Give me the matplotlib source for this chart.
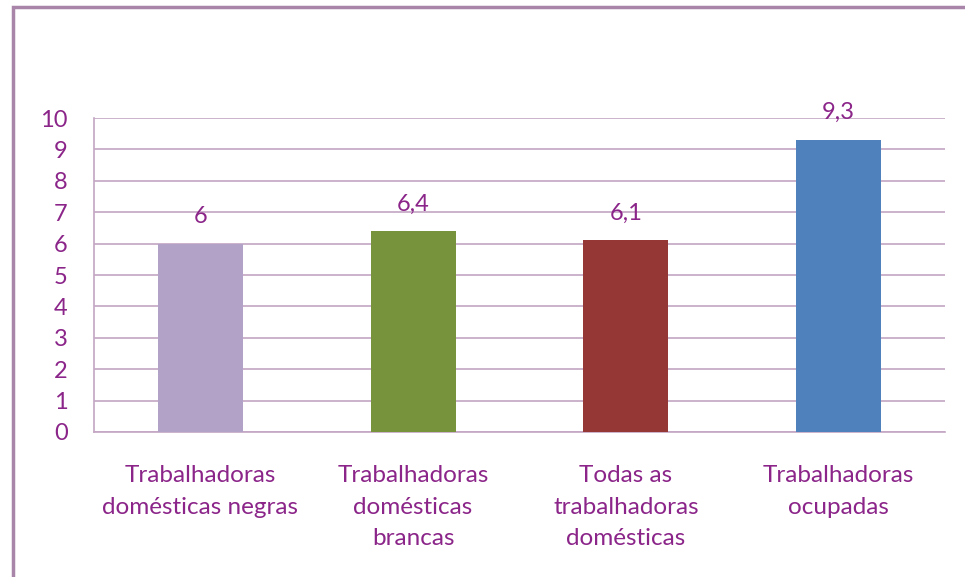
import matplotlib
matplotlib.use("Agg")
import matplotlib.pyplot as plt
from matplotlib.patches import Rectangle

categories = ["Trabalhadoras\ndomésticas negras",
              "Trabalhadoras\ndomésticas\nbrancas",
              "Todas as\ntrabalhadoras\ndomésticas",
              "Trabalhadoras\nocupadas"]
values = [6.0, 6.4, 6.1, 9.3]
value_labels = ["6", "6,4", "6,1", "9,3"]
bar_colors = ["#B2A2C7", "#77933C", "#953735", "#4F81BD"]
yticks = list(range(0, 11))

text_color = "#8B2589"
grid_color = "#C4A6C4"
border_color = "#A985A9"

plt.rcParams['font.family'] = ['Lato', 'DejaVu Sans']

W, H = 965, 577
fig = plt.figure(figsize=(W/100, H/100), dpi=100)
ax = fig.add_axes([94/W, 1-432/H, (945-94)/W, (432-118)/H])

x = list(range(len(categories)))
ax.bar(x, values, width=0.4, color=bar_colors, zorder=3)
for xi, v, lab in zip(x, values, value_labels):
    ax.annotate(lab, (xi, v), xytext=(0, 12), textcoords='offset points',
                ha='center', va='bottom', color=text_color, fontsize=17)

ax.set_xlim(-0.5, 3.5)
ax.set_ylim(0, 10)
ax.set_yticks(yticks)
ax.set_yticklabels([str(t) for t in yticks])
ax.yaxis.grid(True, color=grid_color, linewidth=1.2, zorder=0)
ax.set_axisbelow(True)
ax.tick_params(axis='y', length=0, pad=19, labelsize=17, labelcolor=text_color)
ax.set_xticks(x)
ax.set_xticklabels(categories, fontsize=17.5, color=text_color, linespacing=1.62)
ax.tick_params(axis='x', length=0, pad=24)
for s in ['top', 'right']:
    ax.spines[s].set_visible(False)
for s in ['left', 'bottom']:
    ax.spines[s].set_color(grid_color)
    ax.spines[s].set_linewidth(1.2)

# outer chart border (left and top visible)
fig.patches.append(Rectangle((13/W, -0.05), 1.2, 1-7/H+0.05, transform=fig.transFigure,
                             fill=False, edgecolor=border_color, linewidth=2.5))

fig.savefig("out.png", dpi=100)
